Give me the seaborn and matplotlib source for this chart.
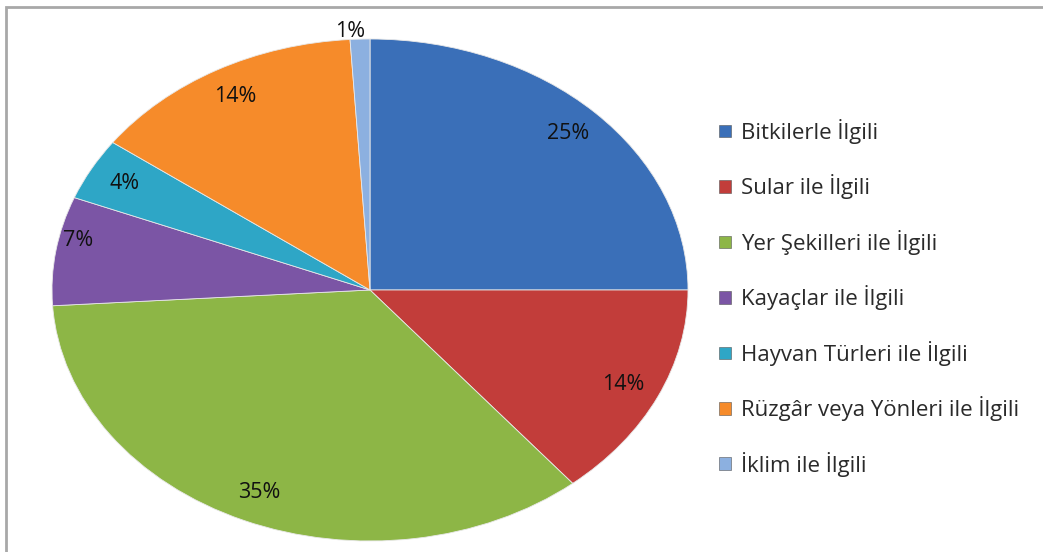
import numpy as np
import matplotlib
matplotlib.use("Agg")
import matplotlib.pyplot as plt
import matplotlib.patches as mpatches
import seaborn as sns

# Kategoriler ve yüzdeler
kategoriler = [
    "Bitkilerle İlgili",
    "Sular ile İlgili",
    "Yer Şekilleri ile İlgili",
    "Kayaçlar ile İlgili",
    "Hayvan Türleri ile İlgili",
    "Rüzgâr veya Yönleri ile İlgili",
    "İklim ile İlgili",
]
yuzdeler = [25, 14, 35, 7, 4, 14, 1]
renkler = ["#3a6fb8", "#c23d3a", "#8db646", "#7b55a5", "#2ea6c6", "#f68b2a", "#8cb0e0"]

sns.set_theme(style="white")
plt.rcParams["font.family"] = ["Open Sans", "DejaVu Sans"]

fig = plt.figure(figsize=(10.43, 5.52), dpi=100)
W, H = 1043, 552

# pasta elips şeklinde: eksen kutusu elipsin sınırları
ax = fig.add_axes([52 / W, (H - 541) / H, 636 / W, 502 / H])
wedges, texts, autotexts = ax.pie(
    yuzdeler,
    colors=sns.color_palette(renkler),
    startangle=90,
    counterclock=False,
    autopct="%1.0f%%",
    pctdistance=0.88,
    wedgeprops=dict(edgecolor="#e8e8e8", linewidth=0.6),
    textprops=dict(fontsize=15.5, color="#111111"),
)
ax.set_aspect("auto")
ax.set_xlim(-1, 1)
ax.set_ylim(-1, 1)
ax.axis("off")

# küçük dilimin etiketi dışarıda
w = wedges[-1]
ang = np.deg2rad((w.theta1 + w.theta2) / 2)
autotexts[-1].set_position((1.03 * np.cos(ang) - 0.03, 1.03 * np.sin(ang)))
# mor dilim etiketi biraz daha dışarıda
w = wedges[3]
ang = np.deg2rad((w.theta1 + w.theta2) / 2)
autotexts[3].set_position((0.93 * np.cos(ang), 0.93 * np.sin(ang) + 0.05))

# lejant
handles = [mpatches.Patch(facecolor=c, edgecolor="#555555", linewidth=0.4) for c in renkler]
fig.legend(
    handles, kategoriler,
    loc="upper left",
    bbox_to_anchor=(699 / W, (H - 99) / H),
    frameon=False,
    fontsize=16,
    labelspacing=1.37,
    handlelength=0.55,
    handleheight=0.5,
    handletextpad=0.45,
    labelcolor="#2a2a2a",
)

# çerçeve
cerceve = mpatches.Rectangle(
    (6 / W, -0.05), 1.1, (H - 7) / H + 0.05,
    transform=fig.transFigure, fill=False, edgecolor="#a8a8a8", linewidth=2,
)
fig.add_artist(cerceve)

fig.savefig("out.png", dpi=100)
